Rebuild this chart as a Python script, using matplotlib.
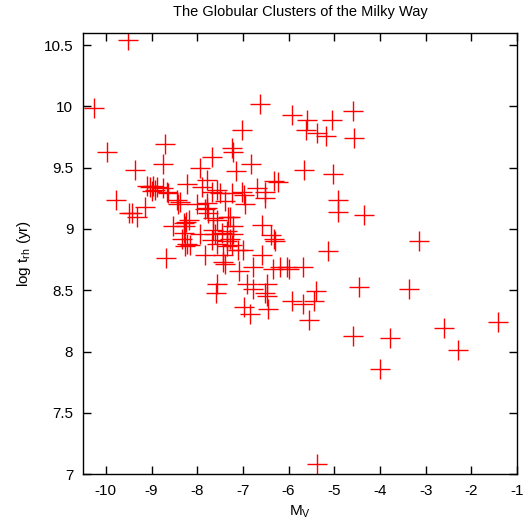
#!/usr/bin/env python3
import matplotlib
matplotlib.use("Agg")
import matplotlib.pyplot as plt

plt.rcParams["font.family"] = ["Liberation Sans", "DejaVu Sans"]

# absolute visual magnitude M_V
mv = [
    -9.52, -10.26, -6.62, -5.92, -5.59, -5.05, -4.60, -7.01, -5.62, -5.38,
    -5.18, -4.58, -9.97, -8.70, -7.24, -7.21, -7.68, -6.83, -8.74, -7.94,
    -7.15, -5.66, -9.37, -5.02, -9.11, -9.03, -8.96, -8.89, -8.92, -9.00,
    -8.74, -8.67, -8.63, -8.23, -7.79, -7.90, -7.68, -7.57, -7.50, -7.24,
    -7.03, -6.97, -6.70, -6.51, -6.51, -6.31, -6.24, -9.77, -8.45, -8.38,
    -8.41, -8.01, -7.79, -7.40, -6.95, -9.14, -9.43, -9.31, -4.92, -4.92,
    -4.35, -8.54, -8.30, -8.24, -8.27, -8.17, -7.83, -7.79, -7.76, -7.65,
    -7.57, -7.32, -7.28, -7.21, -6.58, -8.29, -7.94, -7.65, -7.61, -7.46,
    -7.35, -7.21, -6.38, -6.33, -6.30, -8.34, -8.23, -8.16, -8.27, -7.68,
    -7.57, -7.35, -7.28, -7.24, -7.35, -7.10, -6.99, -8.69, -7.83, -7.43,
    -7.43, -7.39, -6.59, -7.08, -6.79, -6.34, -6.19, -6.04, -6.00, -5.68,
    -7.56, -7.60, -6.90, -6.77, -6.48, -6.51, -6.47, -5.92, -5.69, -6.98,
    -6.84, -6.46, -5.55, -5.14, -3.14, -4.47, -3.36, -5.40, -5.44, -4.60,
    -3.79, -2.61, -1.42, -2.30, -4.00, -5.38, -9.50,
]

# log of half-mass relaxation time (yr)
log_trh = [
    10.54, 9.99, 10.02, 9.93, 9.89, 9.89, 9.96, 9.81, 9.81, 9.78,
    9.76, 9.74, 9.63, 9.69, 9.66, 9.63, 9.59, 9.53, 9.53, 9.50,
    9.47, 9.48, 9.48, 9.45, 9.35, 9.34, 9.35, 9.34, 9.32, 9.31,
    9.33, 9.30, 9.29, 9.37, 9.40, 9.34, 9.30, 9.32, 9.29, 9.29,
    9.30, 9.28, 9.33, 9.30, 9.25, 9.39, 9.38, 9.24, 9.24, 9.22,
    9.20, 9.20, 9.21, 9.23, 9.20, 9.18, 9.13, 9.10, 9.24, 9.14,
    9.11, 9.02, 9.05, 9.06, 9.02, 9.07, 9.16, 9.17, 9.13, 9.09,
    9.07, 9.10, 9.10, 9.02, 9.03, 8.97, 8.96, 8.99, 8.96, 8.97,
    8.98, 8.96, 8.95, 8.92, 8.90, 8.92, 8.88, 8.87, 8.86, 8.91,
    8.88, 8.90, 8.92, 8.87, 8.86, 8.83, 8.83, 8.76, 8.79, 8.79,
    8.73, 8.71, 8.79, 8.66, 8.69, 8.67, 8.69, 8.69, 8.67, 8.69,
    8.55, 8.48, 8.55, 8.51, 8.55, 8.48, 8.45, 8.41, 8.39, 8.36,
    8.31, 8.35, 8.26, 8.82, 8.90, 8.53, 8.51, 8.49, 8.41, 8.13,
    8.11, 8.19, 8.24, 8.01, 7.86, 7.08, 9.13,
]

XTICKS = list(range(-10, 0))
YTICKS = [7, 7.5, 8, 8.5, 9, 9.5, 10, 10.5]

fig = plt.figure(figsize=(5.32, 5.21), dpi=100)
ax = fig.add_axes([0.156, 0.090, 0.816, 0.847])

ax.plot(mv, log_trh, linestyle="none", marker="+", markersize=14,
        markeredgewidth=1.0, color="#ff0000")

ax.set_xlim(-10.5, -1)
ax.set_ylim(7, 10.6)
ax.set_xticks(XTICKS)
ax.set_yticks(YTICKS)
ax.set_xticklabels([str(v) for v in XTICKS])
ax.set_yticklabels(["7", "7.5", "8", "8.5", "9", "9.5", "10", "10.5"])
ax.tick_params(direction="in", top=True, right=True, length=6, width=1,
               labelsize=11, pad=7)
for s in ax.spines.values():
    s.set_linewidth(1.0)

ax.set_xlabel(r"M$_\mathregular{V}$", fontsize=11, labelpad=4)
ax.set_ylabel(r"log t$_\mathregular{rh}$ (yr)", fontsize=11, labelpad=8)
ax.set_title("The Globular Clusters of the Milky Way", fontsize=10.5, pad=12)

fig.savefig("out.png", dpi=100)
